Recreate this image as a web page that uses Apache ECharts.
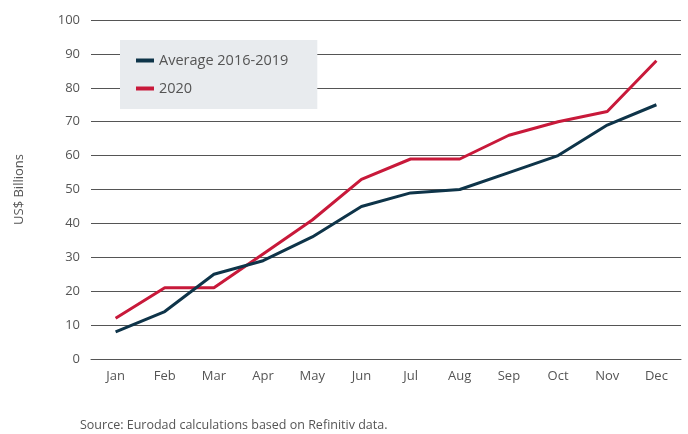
<!DOCTYPE html>
<html>
<head>
<meta charset="utf-8">
<script src="https://cdn.jsdelivr.net/npm/echarts@6/dist/echarts.min.js"></script>
<style>
  html, body { margin: 0; padding: 0; background: #fff; }
  #chart { width: 688px; height: 434px; }
</style>
</head>
<body>
<div id="chart"></div>
<script>
// data
const months = ["Jan", "Feb", "Mar", "Apr", "May", "Jun", "Jul", "Aug", "Sep", "Oct", "Nov", "Dec"];
const avg2016to2019 = [8, 14, 25, 29, 36, 45, 49, 50, 55, 60, 69, 75];
const year2020 = [12, 21, 21, 31, 41, 53, 59, 59, 66, 70, 73, 88];

const fontFamily = "'Open Sans', Roboto, sans-serif";
const textColor = "#555";

const chart = echarts.init(document.getElementById("chart"), null, { renderer: "canvas" });

chart.setOption({
  animation: false,
  textStyle: { fontFamily: fontFamily },
  grid: { left: 91, right: 7, top: 20, bottom: 75 },
  legend: {
    orient: "vertical",
    left: 120,
    top: 40,
    padding: [13, 29, 13, 16],
    backgroundColor: "#e8ebee",
    icon: "rect",
    itemWidth: 18,
    itemHeight: 4,
    itemGap: 13,
    textStyle: { color: textColor, fontSize: 14.5, fontFamily: fontFamily },
    data: ["Average 2016-2019", "2020"]
  },
  xAxis: {
    type: "category",
    data: months,
    boundaryGap: true,
    axisLine: { show: true, lineStyle: { color: "#555", width: 1 } },
    axisTick: { show: false },
    axisLabel: { color: textColor, fontSize: 13, margin: 11 }
  },
  yAxis: {
    type: "value",
    min: 0,
    max: 100,
    interval: 10,
    name: "US$ Billions",
    nameLocation: "middle",
    nameGap: 65,
    nameTextStyle: { color: textColor, fontSize: 13 },
    axisLine: { show: false },
    axisTick: { show: false },
    axisLabel: { color: textColor, fontSize: 13, margin: 11 },
    splitLine: { lineStyle: { color: "#555", width: 1 } }
  },
  series: [
    {
      name: "Average 2016-2019",
      type: "line",
      data: avg2016to2019,
      symbol: "none",
      lineStyle: { color: "#0e3449", width: 3 },
      itemStyle: { color: "#0e3449" },
      z: 3
    },
    {
      name: "2020",
      type: "line",
      data: year2020,
      symbol: "none",
      lineStyle: { color: "#c8193a", width: 3 },
      itemStyle: { color: "#c8193a" },
      z: 2
    }
  ],
  graphic: [
    {
      type: "text",
      left: 80,
      top: 419,
      style: {
        text: "Source: Eurodad calculations based on Refinitiv data.",
        fill: textColor,
        fontSize: 12.5,
        fontFamily: fontFamily
      }
    }
  ]
});
</script>
</body>
</html>
